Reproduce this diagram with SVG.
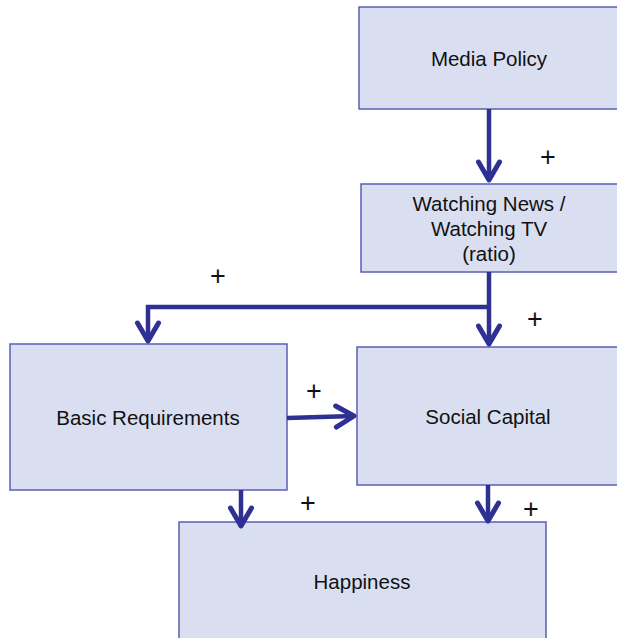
<svg xmlns="http://www.w3.org/2000/svg" width="617" height="638" viewBox="0 0 617 638">
<style>
.box{fill:#d9dff1;stroke:#5b5fb4;stroke-width:1.5}
.lbl{font-family:"Liberation Sans",Arial,sans-serif;font-size:20.5px;fill:#111;text-anchor:middle}
.plus{font-family:"Liberation Sans",Arial,sans-serif;font-size:27px;fill:#111;text-anchor:middle}
.con{fill:none;stroke:#2e3192;stroke-width:4.5;stroke-linejoin:miter}
</style>
<defs>
<marker id="ah" markerUnits="userSpaceOnUse" markerWidth="40" markerHeight="40" refX="0" refY="0" orient="auto" overflow="visible">
<path d="M-18,-10.5 L0,0 L-18,10.5" fill="none" stroke="#2e3192" stroke-width="5" stroke-linecap="round" stroke-linejoin="round"/>
</marker>
</defs>
<g id="media-policy"><rect class="box" x="359" y="7" width="270" height="102"/><text class="lbl" x="489" y="66">Media Policy</text></g>
<g id="watching-news"><rect class="box" x="361" y="184" width="270" height="88"/><text class="lbl" x="489" y="211">Watching News /</text><text class="lbl" x="489" y="236">Watching TV</text><text class="lbl" x="489" y="261">(ratio)</text></g>
<g id="basic-requirements"><rect class="box" x="10" y="344" width="277" height="146"/><text class="lbl" x="148" y="425">Basic Requirements</text></g>
<g id="social-capital"><rect class="box" x="357" y="347" width="270" height="138"/><text class="lbl" x="488" y="424">Social Capital</text></g>
<g id="happiness"><rect class="box" x="179" y="522" width="367" height="130"/><text class="lbl" x="362" y="589">Happiness</text></g>
<g id="connectors">
<path class="con" d="M489,109 V180" marker-end="url(#ah)"/>
<path class="con" d="M489,272 V344" marker-end="url(#ah)"/>
<path class="con" d="M489,307 H148 V341" marker-end="url(#ah)"/>
<path class="con" d="M287,418 L354,416" marker-end="url(#ah)"/>
<path class="con" d="M241,490 V526" marker-end="url(#ah)"/>
<path class="con" d="M488,485 V521" marker-end="url(#ah)"/>
</g>
<g id="labels">
<text class="plus" x="548" y="166">+</text>
<text class="plus" x="218" y="285">+</text>
<text class="plus" x="535" y="328">+</text>
<text class="plus" x="314" y="400">+</text>
<text class="plus" x="308" y="512">+</text>
<text class="plus" x="531" y="518">+</text>
</g>
</svg>
